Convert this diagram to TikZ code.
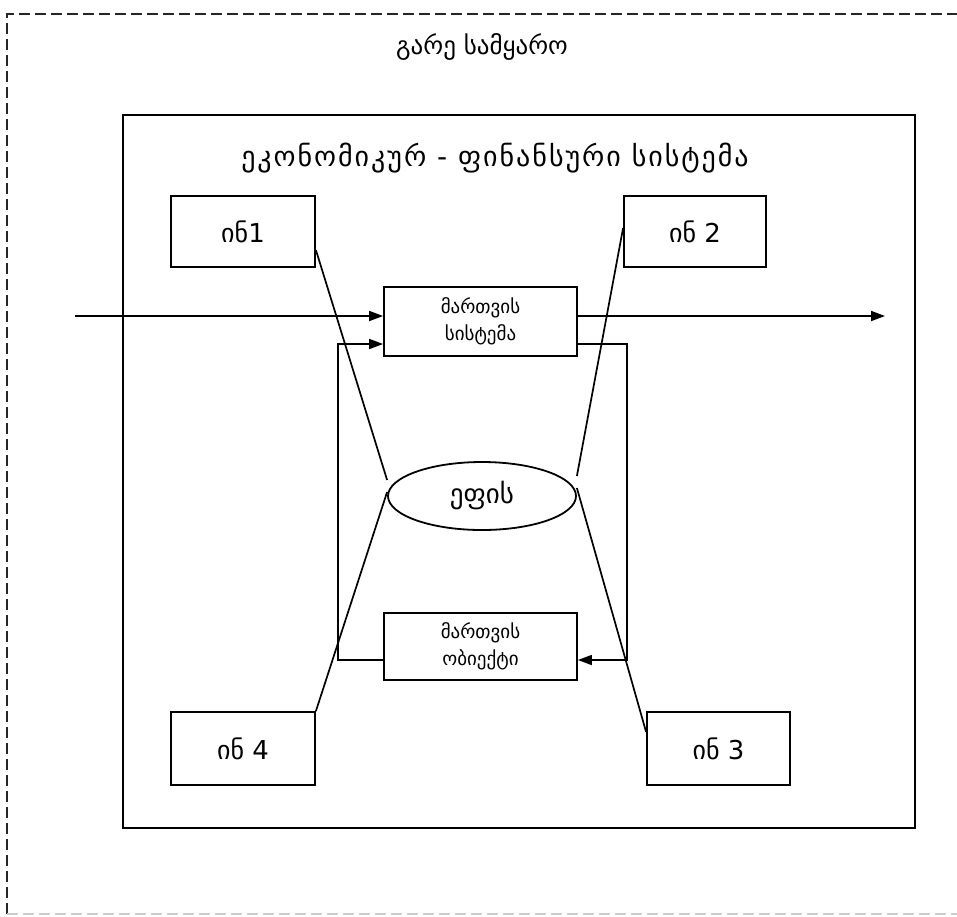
\documentclass[tikz,border=0pt]{standalone}
\usepackage{fontspec}
\setmainfont{DejaVu Sans}
\usetikzlibrary{shapes.geometric,arrows.meta}
\begin{document}
\begin{tikzpicture}[x=1pt,y=-1pt,
  box/.style={draw,line width=1.8pt,inner sep=0pt},
  ln/.style={line width=1.7pt},
  arr/.style={ln,-{Triangle[length=14pt,width=10pt]}},
  ttl/.style={font=\fontsize{25}{28}\selectfont},
  lbl/.style={font=\fontsize{26}{30}\selectfont},
  small/.style={font=\fontsize{19}{27}\selectfont,align=center}]
\useasboundingbox (0,0) rectangle (957,916);
\begin{scope}
\clip (0,0) rectangle (957,916);
\draw[line width=1.4pt,dash pattern=on 11pt off 5pt,black!85] (7,914) -- (7,14) -- (965,14);
\draw[line width=1.2pt,dash pattern=on 11pt off 5pt,black!20] (7,914) -- (965,914);
\end{scope}
\node[ttl] (outer) at (482,47) {გარე სამყარო};
\draw[line width=1.8pt] (123,115) rectangle (915,828);
\node[font=\fontsize{28}{32}\selectfont\addfontfeature{LetterSpace=7}] (sys) at (495,158) {ეკონომიკურ - ფინანსური სისტემა};
\node[box,minimum width=144pt,minimum height=71pt,lbl] (in1) at (243,231.5) {ინ1};
\node[box,minimum width=142pt,minimum height=71pt,lbl] (in2) at (695,231.5) {ინ 2};
\node[box,minimum width=144pt,minimum height=73pt,lbl] (in4) at (243,748.5) {ინ 4};
\node[box,minimum width=143pt,minimum height=73pt,lbl] (in3) at (718.5,748.5) {ინ 3};
\node[box,minimum width=193pt,minimum height=69pt,small] (ms) at (480.5,321.5) {მართვის\\სისტემა};
\node[box,minimum width=193pt,minimum height=67pt,small] (mo) at (480.5,646.5) {მართვის\\ობიექტი};
\node[draw,ellipse,line width=1.8pt,minimum width=188pt,minimum height=68pt,inner sep=0pt,font=\fontsize{27}{30}\selectfont] (ef) at (482,496) {ეფის};
% main flow
\coordinate (inL) at (75,316);
\coordinate (outR) at (885,316);
\draw[arr] (inL) -- (ms.west |- inL);
\draw[arr] (ms.east |- outR) -- (outR);
% feedback loop
\coordinate (r1) at (627,344);
\coordinate (r2) at (627,660);
\coordinate (l1) at (338,660);
\coordinate (l2) at (338,344);
\draw[arr] (ms.east |- r1) -- (r1) -- (r2) -- (mo.east |- r2);
\draw[arr] (mo.west |- l1) -- (l1) -- (l2) -- (ms.west |- l2);
% diagonal links
\draw[ln] (in1.east |- 0,250) -- (ef.west |- 0,480);
\draw[ln] (in2.west |- 0,228) -- (ef.east |- 0,476);
\draw[ln] (in4.north east) -- (ef.west |- 0,492);
\draw[ln] (ef.east |- 0,488) -- (in3.west |- 0,732);
\end{tikzpicture}
\end{document}
